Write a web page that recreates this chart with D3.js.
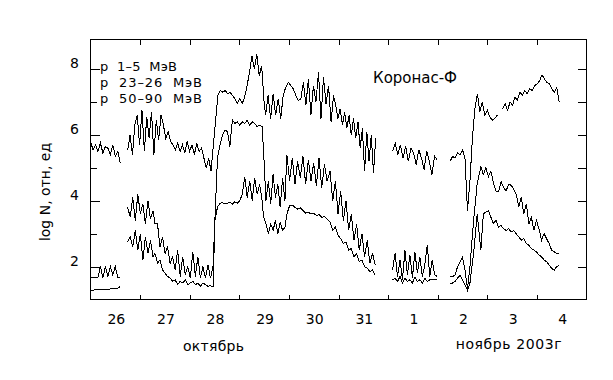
<!DOCTYPE html>
<html lang="ru">
<head>
  <meta charset="UTF-8">
  <title>Коронас-Ф, протоны, октябрь-ноябрь 2003</title>
  <script src="https://d3js.org/d3.v7.min.js"></script>
  <style>
    body { margin: 0; background: #fff; }
    svg { display: block; font-family: "DejaVu Sans", sans-serif; }
  </style>
</head>
<body>
  <svg width="613" height="380"></svg>
  <script>
    // days from 26 Oct 00:00; tick labels are day-of-month
    const dayLabels = ["26", "27", "28", "29", "30", "31", "1", "2", "3", "4"];
    const yTicks = [2, 3, 4, 5, 6, 7, 8];
    const yLabels = [2, 4, 6, 8];
    const legendText = ["p  1–5  МэВ", "p  23–26  МэВ", "p  50–90  МэВ"];

    // p 1-5 MeV, log N
    const p1_oct26 = [5.8, 5.55, 5.7, 5.5, 5.75, 5.45, 5.65, 5.6, 5.4, 5.7, 5.35, 5.5, 5.15];
    const p1_oct27 = [5.55, 6.0, 5.4, 6.3, 6.6, 5.7, 6.75, 5.5, 6.55, 5.9, 6.7, 5.4, 6.45, 5.85, 6.6, 6.3, 5.9, 6.1, 5.8, 5.7, 5.55, 5.75, 5.5, 5.7, 5.45, 5.8, 5.5, 5.7, 5.4, 5.75, 5.5, 5.6, 5.3, 5.0, 5.3, 4.9];
    const p1_oct28 = [6.4, 7.2, 7.35, 7.3, 7.35, 7.25, 7.3, 7.2, 7.1, 6.95, 7.1, 6.95, 7.15, 7.5, 7.9, 8.4, 8.0, 8.45, 7.8, 8.1, 7.0];
    const p1_oct29 = [6.6, 7.2, 6.5, 7.25, 6.6, 7.1, 6.5, 7.2, 7.45, 7.6, 7.5, 7.4, 7.2, 7.05, 7.1, 7.6, 6.9, 7.7, 6.6, 7.5, 7.0, 7.9, 6.5, 7.75, 6.95, 7.5, 6.4];
    const p1_oct30 = [7.2, 6.9, 6.5, 6.8, 6.3, 6.7, 6.2, 6.6, 6.0, 6.5, 5.9, 6.4, 5.6, 6.2, 4.9, 6.1, 5.2, 6.0, 4.85, 5.9];
    const p1_nov1 = [5.5, 5.75, 5.4, 5.7, 5.3, 5.65, 5.2, 5.6, 5.45, 5.1, 5.55, 5.3, 4.95, 5.5, 5.2, 4.8, 5.35, 5.25];
    const p1_nov2 = [5.2, 5.35, 5.3, 5.45, 5.4, 5.55, 5.3, 3.7, 4.6, 5.9, 6.8, 7.25, 6.7, 7.0, 6.6, 6.75, 6.55, 6.45, 6.5, 6.6];
    const p1_nov3 = [6.8, 6.95, 6.75, 7.0, 6.9, 7.15, 7.05, 7.3, 7.2, 7.35, 7.25, 7.4, 7.35, 7.5, 7.55, 7.65, 7.82, 7.7, 7.6, 7.55, 7.4, 7.3, 7.45, 7.0];

    // p 23-26 MeV
    const p23_oct26 = [1.67, 1.67, 1.67, 1.67, 2.0, 1.67, 2.0, 1.7, 2.0, 1.75, 2.0, 1.67, 1.67];
    const p23_oct27a = [3.8, 3.5, 4.1, 3.4, 4.2, 3.6, 3.9, 3.3, 4.0, 3.45, 3.7];
    const p23_oct27b = [3.3, 3.3, 2.6, 2.9, 2.4, 2.6, 2.1, 2.3, 1.9, 2.5, 1.7, 2.3, 1.75, 2.0, 1.65, 2.45, 1.7, 2.3, 1.65, 2.0, 1.65, 2.05, 1.65, 2.0];
    const p23_oct28 = [3.5, 5.3, 5.7, 6.0, 6.15, 6.1, 5.65, 6.45, 6.35, 6.4, 6.3, 6.4, 6.35, 6.45, 6.3, 6.4, 6.35, 6.25, 6.3, 6.25];
    const p23_oct29a = [5.5, 4.0, 4.6, 3.9, 4.8, 4.1, 4.5, 3.8, 4.7, 4.0];
    const p23_oct29b = [5.4, 4.6, 5.3, 4.5, 5.2, 4.7, 5.35, 4.5, 5.25, 4.6, 5.15, 4.45, 5.3, 4.4, 5.1, 4.6];
    const p23_oct30 = [4.9, 4.0, 4.6, 3.6, 4.3, 3.4, 4.0, 3.1, 3.6, 2.8, 3.3, 2.5, 3.0, 2.3, 2.8, 2.1, 2.4, 2.05];
    const p23_nov1 = [1.9, 2.4, 1.7, 2.2, 1.6, 2.5, 1.75, 2.35, 1.65, 2.45, 1.8, 2.3, 1.7, 2.05, 2.65, 1.7, 2.2, 1.75, 1.7];
    const p23_nov2a = [1.7, 1.69, 1.75, 1.99, 2.15, 2.29, 1.9, 1.33];
    const p23_nov2b = [2.0, 3.4, 4.53, 5.03];
    const p23_nov3 = [4.8, 5.0, 4.73, 4.9, 4.53, 4.3, 4.27, 4.58, 4.4, 4.3, 4.5, 4.47, 4.35, 4.2, 3.81, 4.1, 3.6, 3.9, 3.3, 3.5, 3.1, 3.4, 3.15, 2.8, 3.0, 2.85, 2.7, 2.5, 2.45, 2.4, 2.4];

    // p 50-90 MeV
    const p50_oct26 = [1.28, 1.28, 1.3, 1.3, 1.3, 1.3, 1.3, 1.31, 1.32, 1.32, 1.33, 1.34, 1.4];
    const p50_oct27a = [2.75, 2.9, 2.6, 3.1, 2.5, 3.0, 2.2, 2.9, 2.4, 2.8, 2.3];
    const p50_oct27b = [2.4, 2.1, 2.2, 1.9, 1.8, 1.7, 1.65, 1.55, 1.6, 1.45, 1.55, 1.5, 1.6, 1.45, 1.5, 1.55, 1.45, 1.5, 1.4, 1.5, 1.45, 1.4, 1.42, 1.38];
    const p50_oct28 = [3.4, 3.81, 3.92, 3.95, 3.9, 3.92, 3.95, 3.9, 3.97, 3.93, 4.0, 4.2, 4.73, 4.1, 4.6, 4.0, 4.7, 4.2, 4.5, 4.0];
    const p50_oct29a = [3.5, 3.3, 3.0, 3.3, 3.1, 3.4, 3.0, 3.35, 3.1, 3.2];
    const p50_oct29b = [3.6, 3.85, 3.87, 3.8, 3.75, 3.78, 3.7, 3.62, 3.65, 3.6, 3.62, 3.55, 3.58, 3.5, 3.52, 3.45];
    const p50_oct30 = [3.36, 3.1, 3.2, 2.95, 2.85, 2.7, 2.75, 2.5, 2.55, 2.3, 2.4, 2.15, 2.2, 2.0, 1.95, 1.85, 1.9, 1.74];
    const p50_nov1 = [1.6, 1.65, 1.55, 1.7, 1.5, 1.65, 1.55, 1.6, 1.5, 1.68, 1.55, 1.6, 1.5, 1.65, 1.55, 1.6, 1.62, 1.6, 1.6];
    const p50_nov2a = [1.49, 1.5, 1.55, 1.65, 1.74, 1.6, 1.45, 1.28];
    const p50_nov2b = [1.5, 2.4, 3.6, 2.5];
    const p50_nov3 = [3.6, 3.66, 3.7, 3.5, 3.31, 3.4, 3.2, 3.25, 3.15, 3.1, 3.15, 3.05, 3.1, 3.0, 2.9, 2.8, 2.85, 2.7, 2.65, 2.55, 2.5, 2.45, 2.35, 2.3, 2.2, 2.15, 2.05, 1.95, 1.89, 2.0, 2.04];

    // [start day, end day, samples]; inner arrays are continuous runs, gaps between them
    const p1Runs = [
      [[0, 0.6, p1_oct26]],
      [[0.75, 2.43, p1_oct27], [2.52, 3.5, p1_oct28], [3.53, 4.85, p1_oct29], [4.9, 5.75, p1_oct30]],
      [[6.09, 6.99, p1_nov1]],
      [[7.25, 8.2, p1_nov2]],
      [[8.31, 9.45, p1_nov3]]
    ];
    const p23Runs = [
      [[0, 0.6, p23_oct26]],
      [[0.75, 1.26, p23_oct27a], [1.3, 2.47, p23_oct27b], [2.51, 3.46, p23_oct28], [3.49, 3.92, p23_oct29a], [3.96, 4.77, p23_oct29b], [4.83, 5.74, p23_oct30]],
      [[6.09, 6.99, p23_nov1]],
      [[7.25, 7.6, p23_nov2a], [7.65, 7.87, p23_nov2b], [7.92, 9.45, p23_nov3]]
    ];
    const p50Runs = [
      [[0, 0.6, p50_oct26]],
      [[0.75, 1.26, p50_oct27a], [1.3, 2.47, p50_oct27b], [2.51, 3.46, p50_oct28], [3.49, 3.92, p50_oct29a], [3.96, 4.77, p50_oct29b], [4.83, 5.74, p50_oct30]],
      [[6.09, 6.99, p50_nov1]],
      [[7.25, 7.6, p50_nov2a], [7.65, 7.87, p50_nov2b], [7.92, 9.45, p50_nov3]]
    ];

    const svg = d3.select("svg");
    const L = 90.5, R = 586.5, T = 39.5, B = 299.5;

    const x = d3.scaleLinear().domain([0, 10]).range([L, R]);
    const y = d3.scaleLinear().domain([1, 8.9]).range([B, T]);

    svg.append("rect").attr("width", 613).attr("height", 380).attr("fill", "#fff");

    // turn runs into one point list with breaks
    function toPoints(runs) {
      const pts = [];
      runs.forEach((run, k) => {
        if (k > 0) pts.push(null);
        run.forEach(([t0, t1, vals]) => {
          vals.forEach((v, i) => {
            pts.push({ t: t0 + (t1 - t0) * i / (vals.length - 1), v: v });
          });
        });
      });
      return pts;
    }

    const line = d3.line()
      .defined(d => d !== null)
      .x(d => x(d.t))
      .y(d => y(d.v));

    const plot = svg.append("g");
    [p1Runs, p23Runs, p50Runs].forEach(runs => {
      plot.append("path")
        .datum(toPoints(runs))
        .attr("d", line)
        .attr("fill", "none")
        .attr("stroke", "#000")
        .attr("stroke-width", 1)
        .attr("stroke-linejoin", "miter")
        .attr("shape-rendering", "crispEdges");
    });

    // frame
    svg.append("rect")
      .attr("x", L).attr("y", T)
      .attr("width", R - L).attr("height", B - T)
      .attr("fill", "none").attr("stroke", "#000")
      .attr("shape-rendering", "crispEdges");

    // inward ticks
    const dayTicks = d3.range(1, 10);
    const ax = svg.append("g").attr("stroke", "#000").attr("shape-rendering", "crispEdges");
    ax.selectAll(".tb").data(dayTicks).join("line")
      .attr("x1", d => Math.round(x(d)) + 0.5).attr("x2", d => Math.round(x(d)) + 0.5)
      .attr("y1", B).attr("y2", B - 5);
    ax.selectAll(".tt").data(dayTicks).join("line")
      .attr("x1", d => Math.round(x(d)) + 0.5).attr("x2", d => Math.round(x(d)) + 0.5)
      .attr("y1", T).attr("y2", T + 5);
    ax.selectAll(".tl").data(yTicks).join("line")
      .attr("x1", L).attr("x2", d => L + (d % 2 === 0 ? 9 : 6))
      .attr("y1", d => Math.round(y(d)) + 0.5).attr("y2", d => Math.round(y(d)) + 0.5);
    ax.selectAll(".tr").data(yTicks).join("line")
      .attr("x1", R).attr("x2", R - 9)
      .attr("y1", d => Math.round(y(d)) + 0.5).attr("y2", d => Math.round(y(d)) + 0.5);

    // tick labels
    svg.append("g").selectAll("text").data(dayLabels).join("text")
      .attr("x", (d, i) => x(i + 0.5) + 1)
      .attr("y", B + 24)
      .attr("text-anchor", "middle")
      .attr("font-size", 14)
      .text(d => d);

    svg.append("g").selectAll("text").data(yLabels).join("text")
      .attr("x", 79)
      .attr("y", d => y(d) - 1)
      .attr("text-anchor", "end")
      .attr("font-size", 14)
      .text(d => d);

    svg.append("text")
      .attr("x", x(2.5) - 1).attr("y", 351)
      .attr("text-anchor", "middle").attr("font-size", 14)
      .attr("textLength", 61).attr("lengthAdjust", "spacing")
      .text("октябрь");
    svg.append("text")
      .attr("x", x(8.43)).attr("y", 349)
      .attr("text-anchor", "middle").attr("font-size", 14)
      .attr("textLength", 106).attr("lengthAdjust", "spacing")
      .text("ноябрь 2003г");

    svg.append("text")
      .attr("transform", "translate(50,192) rotate(-90)")
      .attr("text-anchor", "middle").attr("font-size", 14)
      .text("log N, отн, ед");

    // legend
    const legendW = [77, 102, 102];
    svg.append("g").selectAll("text").data(legendText).join("text")
      .attr("x", 100)
      .attr("y", (d, i) => 71 + i * 16)
      .attr("font-size", 13)
      .attr("xml:space", "preserve")
      .style("white-space", "pre")
      .attr("textLength", (d, i) => legendW[i])
      .attr("lengthAdjust", "spacing")
      .text(d => d);

    svg.append("text")
      .attr("x", 373).attr("y", 83)
      .attr("font-size", 15)
      .attr("textLength", 84).attr("lengthAdjust", "spacing")
      .text("Коронас-Ф");
  </script>
</body>
</html>
